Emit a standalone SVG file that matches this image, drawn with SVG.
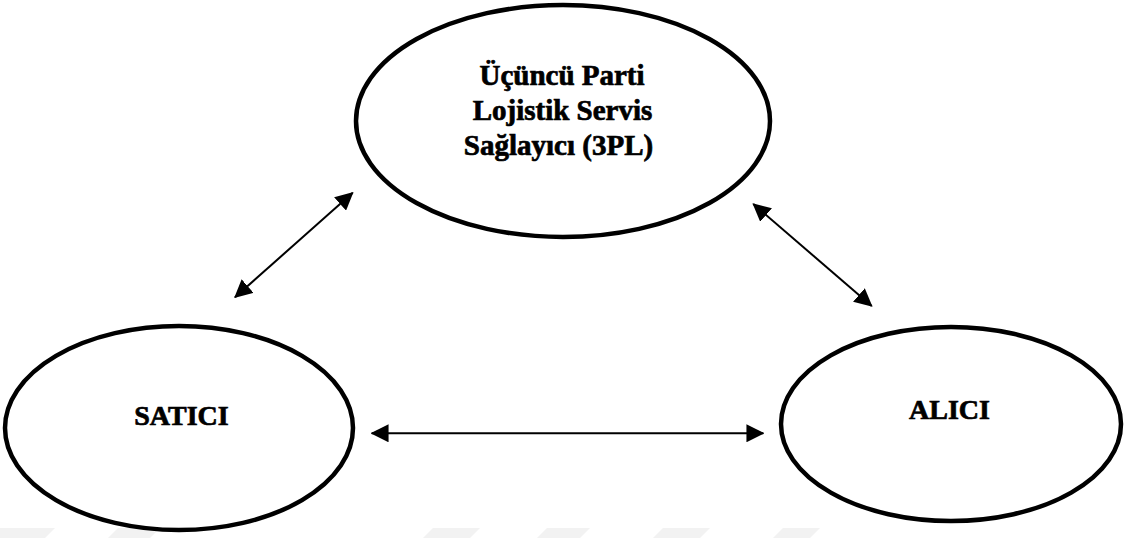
<svg xmlns="http://www.w3.org/2000/svg" width="1131" height="538" viewBox="0 0 1131 538">
  <style>
    .node { fill: #ffffff; stroke: #000000; stroke-width: 4.5; }
    .lbl { font-family: "Liberation Serif", "Times New Roman", serif; font-weight: bold; font-size: 28px; fill: #000000; stroke: #000000; stroke-width: 0.7; text-anchor: middle; }
    .big { font-size: 29px; }
    .conn { stroke: #000000; stroke-width: 2; fill: none; marker-start: url(#ah); marker-end: url(#ah); }
    .wm { fill: #f2f2f2; }
  </style>
  <defs>
    <marker id="ah" markerUnits="userSpaceOnUse" markerWidth="18" markerHeight="18" refX="15" refY="8" orient="auto-start-reverse" viewBox="0 0 16 16">
      <path d="M0,0 L16,8 L0,16 Z" fill="#000000"/>
    </marker>
  </defs>
  <rect width="1131" height="538" fill="#ffffff"/>
  <g id="watermark">
    <polygon class="wm" points="0,538 0,528 55,528 45,538"/>
    <polygon class="wm" points="108,538 118,528 160,528 150,538"/>
    <polygon class="wm" points="423,538 433,528 480,528 470,538"/>
    <polygon class="wm" points="537,538 547,528 590,528 580,538"/>
    <polygon class="wm" points="653,538 663,528 710,528 700,538"/>
    <polygon class="wm" points="773,538 783,528 820,528 810,538"/>
  </g>
  <g id="connectors">
    <line class="conn" x1="352.7" y1="192.7" x2="235" y2="297.3"/>
    <line class="conn" x1="753.3" y1="204" x2="871.7" y2="306"/>
    <line class="conn" x1="371.7" y1="433.3" x2="763.3" y2="433.3"/>
  </g>
  <g id="node-3pl">
    <ellipse class="node" cx="563" cy="121" rx="207" ry="116"/>
    <text class="lbl big" x="562" y="85">Üçüncü Parti</text>
    <text class="lbl big" x="562.5" y="120">Lojistik Servis</text>
    <text class="lbl big" x="558.5" y="155">Sağlayıcı (3PL)</text>
  </g>
  <g id="node-satici">
    <ellipse class="node" cx="179" cy="428" rx="174" ry="102"/>
    <text class="lbl" x="181.5" y="425">SATICI</text>
  </g>
  <g id="node-alici">
    <ellipse class="node" cx="951" cy="424" rx="170" ry="97"/>
    <text class="lbl" x="949.5" y="419">ALICI</text>
  </g>
</svg>
